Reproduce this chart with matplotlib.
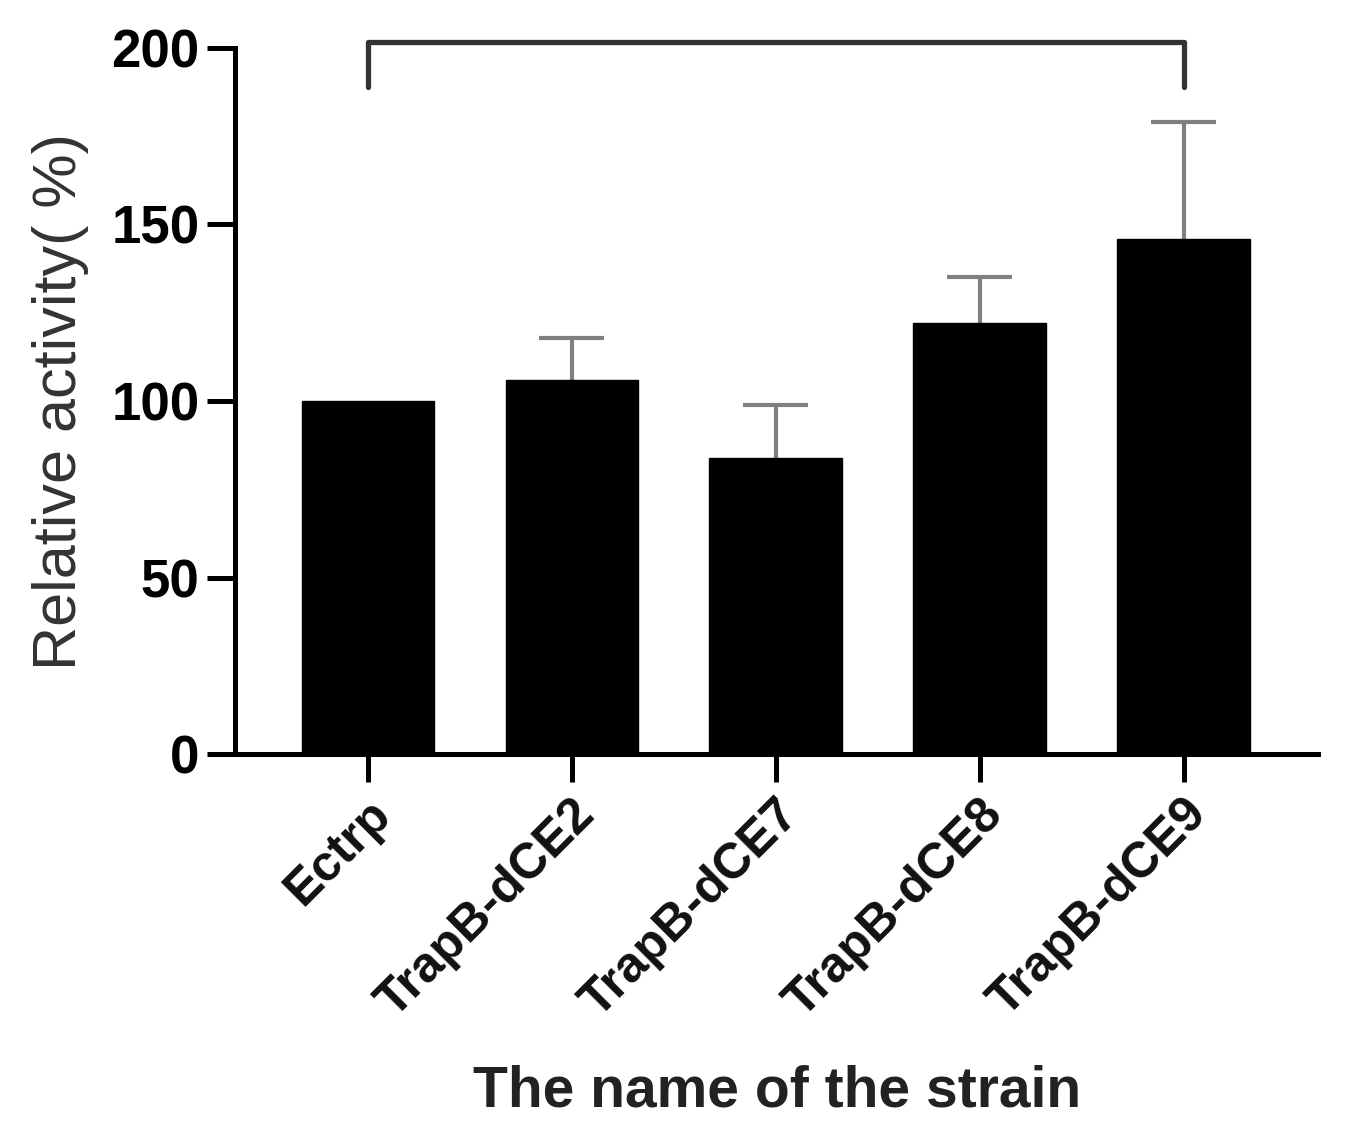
import matplotlib.pyplot as plt
import numpy as np

strains = ["Ectrp", "TrapB-dCE2", "TrapB-dCE7", "TrapB-dCE8", "TrapB-dCE9"]
activity = [100, 106, 84, 122, 146]
err_up = [0, 12, 15, 13, 33]
yticks = [0, 50, 100, 150, 200]

plt.rcParams['font.family'] = ['Liberation Sans', 'DejaVu Sans']

fig = plt.figure(figsize=(13.45, 11.38), dpi=100)
ax = fig.add_axes([0.175, 0.337, 0.805, 0.621])

x = np.arange(len(strains))
ax.bar(x, activity, width=0.65, color='black', edgecolor='black', zorder=3)

# upper error bars only
act = np.array(activity)
err = np.array(err_up)
has = err > 0
ax.vlines(x[has], act[has], act[has] + err[has], color='#808080', lw=3, zorder=1)
ax.hlines(act[has] + err[has], x[has] - 0.16, x[has] + 0.16, color='#808080', lw=3, zorder=1)

# bracket between first and last strain
bx = [x[0], x[0], x[-1], x[-1]]
by = [189, 201.5, 201.5, 189]
ax.plot(bx, by, color='#333333', lw=3.8, clip_on=False, solid_capstyle='round',
        solid_joinstyle='round')

ax.set_xlim(-0.65, 4.66)
ax.set_ylim(0, 200)
ax.set_yticks(yticks)
ax.set_xticks(x)
ax.set_xticklabels(strains, rotation=45, ha='right', rotation_mode='anchor',
                   fontsize=36, fontweight='bold', color='#111111')
ax.set_yticklabels([str(v) for v in yticks], fontsize=38, fontweight='bold')

for s in ['top', 'right']:
    ax.spines[s].set_visible(False)
for s in ['left', 'bottom']:
    ax.spines[s].set_linewidth(3.6)
ax.tick_params(axis='both', width=3.6, length=20, pad=6)

ax.set_ylabel("Relative activity( %)", fontsize=44, color='#333333', labelpad=16)
ax.set_xlabel("The name of the strain", fontsize=41, fontweight='bold',
              color='#222222', labelpad=28)

fig.savefig("out.png", dpi=100)
